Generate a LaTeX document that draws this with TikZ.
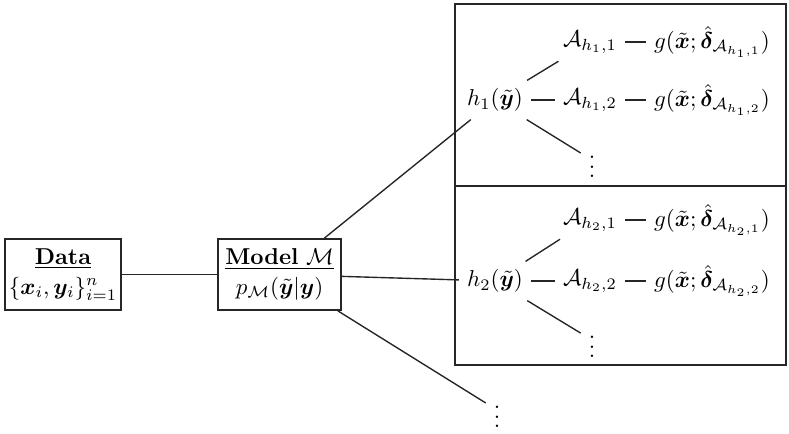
\documentclass[tikz,border=0pt]{standalone}
\usepackage{amsmath,bm}
\begin{document}
\begin{tikzpicture}[x=0.435pt,y=-0.435pt,
  frame/.style={draw=black!85, line width=0.8pt, inner sep=0pt, align=center},
  lbl/.style={inner sep=3.333pt},
  link/.style={draw=black!85, line width=0.6pt}]
\useasboundingbox (0,0) rectangle (789,434);

% frames
\node[frame, minimum width=50.5pt, minimum height=30.9pt] (data) at (63,274.5)
  {\underline{\textbf{Data}}\\[1pt] $\{\bm{x}_i,\bm{y}_i\}_{i=1}^{n}$};
\node[frame, minimum width=53.5pt, minimum height=30.9pt] (model) at (279.5,274.5)
  {\underline{\textbf{Model} $\mathcal{M}$}\\[1pt] $p_{\mathcal{M}}(\tilde{\bm{y}}|\bm{y})$};
\node[frame, minimum width=144pt, minimum height=79.2pt] (box1) at (620.5,95) {};
\node[frame, minimum width=144pt, minimum height=77.9pt] (box2) at (620.5,275.5) {};

% first branch
\node[lbl] (h1) at (495,100) {$h_1(\tilde{\bm{y}})$};
\node[lbl] (a11) at (590,42) {$\mathcal{A}_{h_1,1}$};
\node[lbl] (g11) at (712,42) {$g(\tilde{\bm{x}};\hat{\bm{\delta}}_{\mathcal{A}_{h_1,1}})$};
\node[lbl] (a12) at (590,100) {$\mathcal{A}_{h_1,2}$};
\node[lbl] (g12) at (712,100) {$g(\tilde{\bm{x}};\hat{\bm{\delta}}_{\mathcal{A}_{h_1,2}})$};
\node[lbl] (d1) at (592,160) {$\vdots$};

% second branch
\node[lbl] (h2) at (495,281) {$h_2(\tilde{\bm{y}})$};
\node[lbl] (a21) at (590,220) {$\mathcal{A}_{h_2,1}$};
\node[lbl] (g21) at (712,220) {$g(\tilde{\bm{x}};\hat{\bm{\delta}}_{\mathcal{A}_{h_2,1}})$};
\node[lbl] (a22) at (590,281) {$\mathcal{A}_{h_2,2}$};
\node[lbl] (g22) at (712,281) {$g(\tilde{\bm{x}};\hat{\bm{\delta}}_{\mathcal{A}_{h_2,2}})$};
\node[lbl] (d2) at (592,340) {$\vdots$};

% third branch
\node[lbl] (d3) at (497,410) {$\vdots$};

% connectors
\draw[link] (data) -- (model);
\draw[link] (model) -- (h1);
\draw[link] (model) -- (h2);
\draw[link] (model) -- (d3);
\draw[link] (h1) -- (a11);
\draw[link] (h1) -- (a12);
\draw[link] (h1) -- (d1);
\draw[link] (a11) -- (g11);
\draw[link] (a12) -- (g12);
\draw[link] (h2) -- (a21);
\draw[link] (h2) -- (a22);
\draw[link] (h2) -- (d2);
\draw[link] (a21) -- (g21);
\draw[link] (a22) -- (g22);
\end{tikzpicture}
\end{document}
